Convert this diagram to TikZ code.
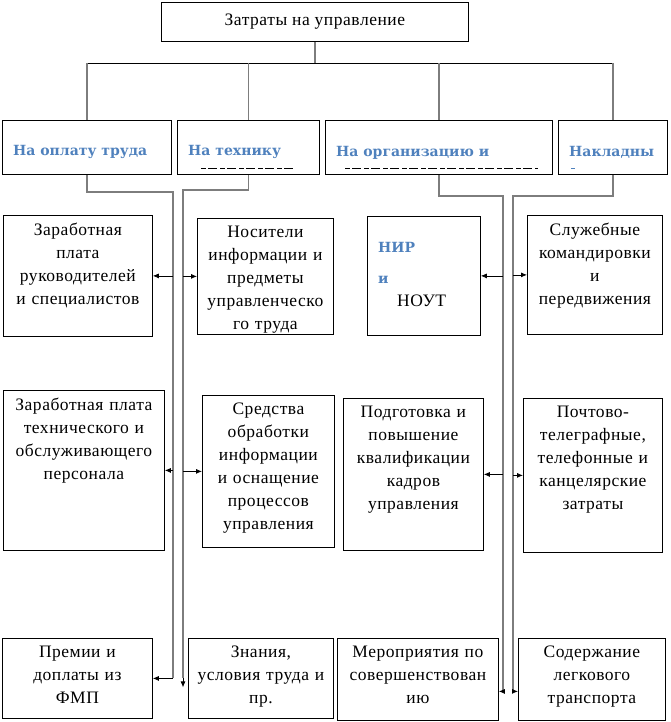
\documentclass[tikz,border=0pt]{standalone}
\usepackage{fontspec}
\setmainfont{Liberation Serif}[LetterSpace=3]
\newfontfamily\headfont{DejaVu Serif}
\usetikzlibrary{positioning,calc,arrows.meta}
\definecolor{headblue}{RGB}{79,129,189}
\definecolor{linkgray}{RGB}{125,125,125}
\tikzset{
    box/.style={rectangle, draw=black, line width=0.8pt, inner sep=0pt, anchor=north west},
    boxtext/.style={inner sep=0pt, align=center, font=\fontsize{17.5}{23}\selectfont},
    headtext/.style={inner sep=0pt, anchor=west, text=headblue, font=\headfont\bfseries\fontsize{14}{16}\selectfont},
    bus/.style={line width=0.8pt, black},
    link/.style={line width=1.2pt, linkgray},
    arr/.style={line width=0.8pt, black, -{Latex[length=6pt,width=5pt]}},
    cut/.style={line width=0.7pt, dash pattern=on 5pt off 2pt on 9pt off 3pt},
}
\begin{document}
\begin{tikzpicture}[x=1pt, y=-1pt]
    \useasboundingbox (0,0) rectangle (671,722);
    % top box
    \node[box, boxtext, minimum width=307pt, minimum height=39pt] (head) at (161,2) {Затраты на управление};

    % first level
    \foreach \nm/\x/\bw/\txt in {payA/2/169/{На оплату труда}, tekhB/177/142/{На технику},
                                 orgC/325/227/{На организацию и}, naklD/558/109/{Накладны}} {
        \node[box, minimum width=\bw*1pt, minimum height=54pt] (\nm) at (\x,120) {};
        \node[headtext, right=11pt of \nm.west, yshift=-5pt] (\nm-t) {\txt};
    }
    \draw[cut] ($(tekhB.south west)+(24,-6)$) -- ($(tekhB.south east)+(-24,-6)$);
    \draw[cut] ($(orgC.south west)+(20,-6)$) -- ($(orgC.south east)+(-15,-6)$);
    \draw[line width=0.7pt, headblue] ($(naklD.south west)+(13,-6)$) -- ($(naklD.south west)+(17,-6)$);

    \coordinate (bus) at (0,63);
    \draw[link] (head.south) -- (head.south |- bus);
    \draw[bus] (payA.north |- bus) -- (naklD.north |- bus);
    \foreach \nm in {payA, tekhB, orgC, naklD}
        \draw[link] (\nm.north |- bus) -- (\nm.north);

    % cost items
    \foreach \nm/\x/\y/\bw/\bh/\txt in {
        zpRuk/3/215/149/121/{Заработная\\плата\\руководителей\\и специалистов},
        nosit/197/218/136/116/{Носители\\информации и\\предметы\\управленческо\\го труда},
        nir/367/216/113/119/{},
        sluzh/527/215/135/119/{Служебные\\командировки\\и\\передвижения},
        zpTech/3/390/161/160/{Заработная плата\\технического и\\обслуживающего\\персонала},
        sredst/202/395/132/152/{Средства\\обработки\\информации\\и оснащение\\процессов\\управления},
        podg/343/398/140/152/{Подготовка и\\повышение\\квалификации\\кадров\\управления},
        pocht/523/398/139/154/{Почтово-\\телеграфные,\\телефонные и\\канцелярские\\затраты},
        prem/2/638/150/80/{Премии и\\доплаты из\\ФМП},
        znan/188/638/145/80/{Знания,\\условия труда и\\пр.},
        merop/337/638/161/82/{Мероприятия по\\совершенствован\\ию},
        sod/518/638/147/82/{Содержание\\легкового\\транспорта}} {
        \node[box, minimum width=\bw*1pt, minimum height=\bh*1pt] (\nm) at (\x,\y) {};
        \node[boxtext, text width=\bw*1pt-2pt, below=8pt of \nm.north] (\nm-t) {\txt};
    }
    \node[headtext] (nirA) at (378,247) {НИР};
    \node[headtext] (nirB) at (378,280) {и};
    \node[boxtext, anchor=west] (nirC) at (397,301) {НОУТ};

    % trunks
    \coordinate (jA) at (173,192);
    \coordinate (jB) at (183,190);
    \coordinate (jC) at (503,196);
    \coordinate (jD) at (513,196);
    \coordinate (znanTip) at ($(jB |- znan.west)+(0,9)$);
    \coordinate (meropIn) at ($(merop.east)+(0,12)$);
    \coordinate (sodIn) at ($(sod.west)+(0,12)$);

    \draw[link] (payA.south) |- (jA) -- (jA |- prem.east);
    \draw[link] (tekhB.south) |- (jB) -- (jB |- znan.west);
    \draw[link] (orgC.south) |- (jC) -- (jC |- meropIn);
    \draw[link] (naklD.south) |- (jD) -- (jD |- sodIn);

    \draw[arr] (jA |- zpRuk.east) -- (zpRuk.east);
    \draw[arr] (jA |- zpTech.east) -- (zpTech.east);
    \draw[arr] (jA |- prem.east) -- (prem.east);
    \draw[arr] (jB |- nosit.west) -- (nosit.west);
    \draw[arr] (jB |- sredst.west) -- (sredst.west);
    \draw[arr] (jB |- znan.west) -- (znanTip);
    \draw[arr] (jC |- nir.east) -- (nir.east);
    \draw[arr] (jC |- podg.east) -- (podg.east);
    \draw[arr] (jC |- meropIn) -- (meropIn);
    \draw[arr] (jD |- sluzh.west) -- (sluzh.west);
    \draw[arr] (jD |- pocht.west) -- (pocht.west);
    \draw[arr] (jD |- sodIn) -- (sodIn);
\end{tikzpicture}
\end{document}
